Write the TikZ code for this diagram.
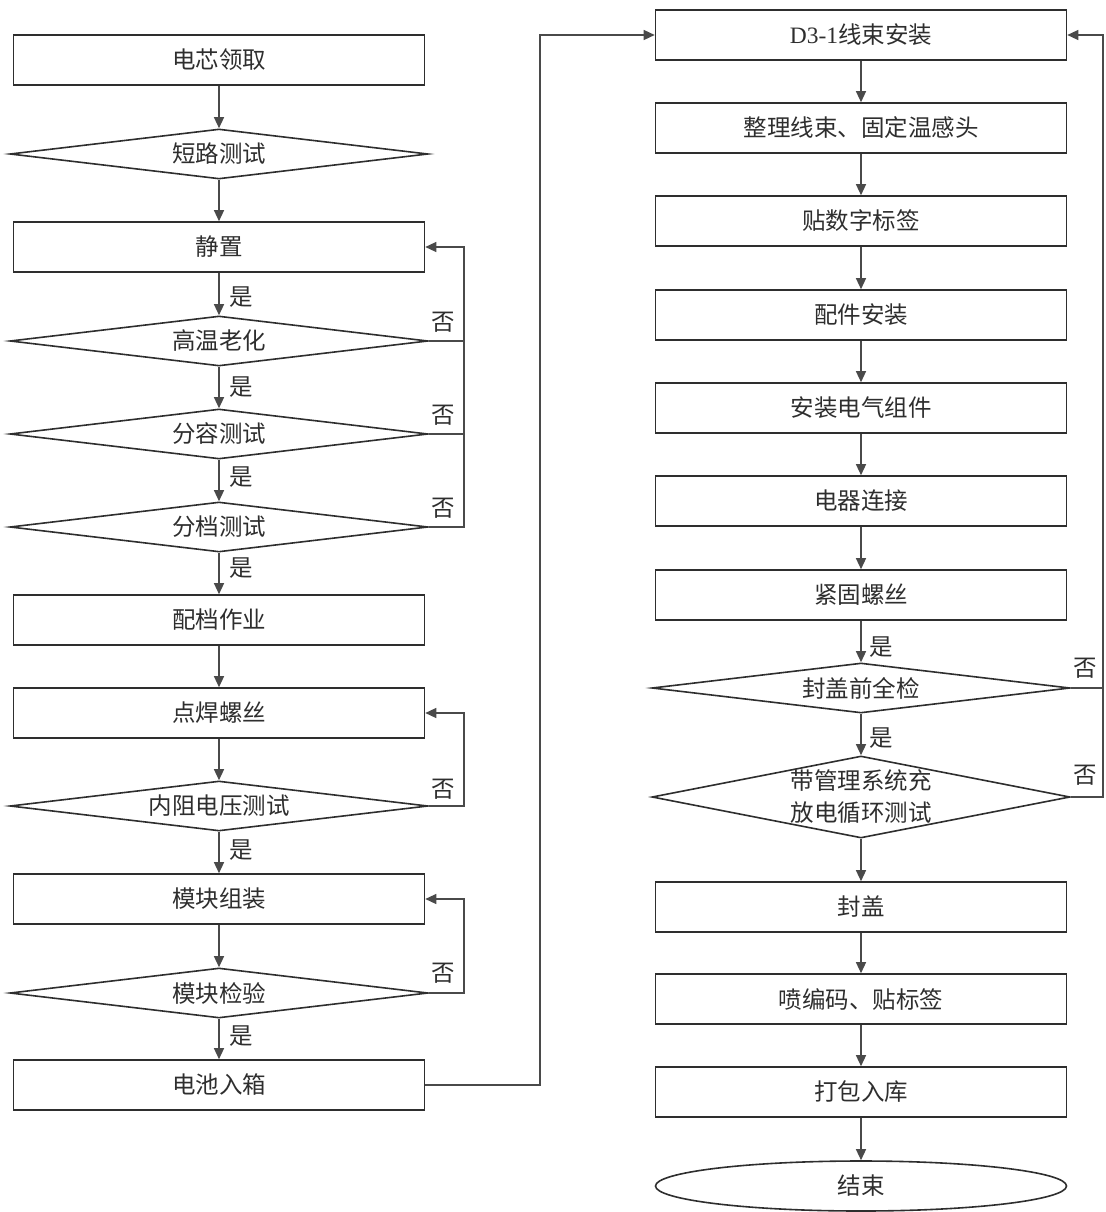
\documentclass[tikz,border=0pt]{standalone}
\usepackage{fontspec}
\setmainfont{Noto Sans CJK SC}
\newfontfamily\lat{Liberation Serif}
\usetikzlibrary{shapes.geometric,arrows.meta}
\definecolor{ln}{HTML}{2E2E2E}
\definecolor{cn}{HTML}{4A4A4A}
\definecolor{txt}{HTML}{2E2E2E}
\begin{document}
\begin{tikzpicture}[x=1pt,y=-1pt,
  every node/.style={font=\fontsize{23.5}{32}\selectfont, text=txt},
  box/.style={draw=ln, line width=1.6pt, rectangle, minimum width=411pt, minimum height=50pt, inner sep=0pt},
  dia/.style={draw=ln, line width=1.6pt, diamond, minimum width=418pt, minimum height=50pt, inner sep=0pt, aspect=8},
  ell/.style={draw=ln, line width=1.6pt, ellipse, minimum width=411pt, minimum height=50pt, inner sep=0pt},
  conn/.style={draw=cn, line width=1.3pt},
  arr/.style={conn, -{Triangle[length=11pt,width=10pt]}},
  lab/.style={inner sep=0pt}]
\useasboundingbox (0,0) rectangle (1105,1212);
% left column
\node[box] (n1) at (219,60) {电芯领取};
\node[dia, label={center:短路测试}] (d0) at (219,154) {};
\node[box] (n2) at (219,247) {静置};
\node[dia, label={center:高温老化}] (d1) at (219,341) {};
\node[dia, label={center:分容测试}] (d2) at (219,434) {};
\node[dia, label={center:分档测试}] (d3) at (219,527) {};
\node[box] (n3) at (219,620) {配档作业};
\node[box] (n4) at (219,713) {点焊螺丝};
\node[dia, label={center:内阻电压测试}] (d4) at (219,806) {};
\node[box] (n5) at (219,899) {模块组装};
\node[dia, label={center:模块检验}] (d5) at (219,993) {};
\node[box] (n6) at (219,1085) {电池入箱};
% right column
\node[box] (r1) at (861,35) {{\lat D3-1}线束安装};
\node[box] (r2) at (861,128) {整理线束、固定温感头};
\node[box] (r3) at (861,221) {贴数字标签};
\node[box] (r4) at (861,315) {配件安装};
\node[box] (r5) at (861,408) {安装电气组件};
\node[box] (r6) at (861,501) {电器连接};
\node[box] (r7) at (861,595) {紧固螺丝};
\node[dia, label={center:封盖前全检}] (d6) at (861,688) {};
\node[dia, minimum height=82pt, label={[align=center]center:带管理系统充\\放电循环测试}] (d7) at (861,797) {};
\node[box] (r8) at (861,907) {封盖};
\node[box] (r9) at (861,999) {喷编码、贴标签};
\node[box] (r10) at (861,1092) {打包入库};
\node[ell] (e1) at (861,1186) {结束};
% helper coordinates
\coordinate (fbL) at (464,0);
\coordinate (fbR) at (1103,0);
\coordinate (mid) at (540,0);
% main flow left
\draw[arr] (n1) -- (d0);
\draw[arr] (d0) -- (n2);
\draw[arr] (n2) -- (d1);
\draw[arr] (d1) -- (d2);
\draw[arr] (d2) -- (d3);
\draw[arr] (d3) -- (n3);
\draw[arr] (n3) -- (n4);
\draw[arr] (n4) -- (d4);
\draw[arr] (d4) -- (n5);
\draw[arr] (n5) -- (d5);
\draw[arr] (d5) -- (n6);
% main flow right
\draw[arr] (r1) -- (r2);
\draw[arr] (r2) -- (r3);
\draw[arr] (r3) -- (r4);
\draw[arr] (r4) -- (r5);
\draw[arr] (r5) -- (r6);
\draw[arr] (r6) -- (r7);
\draw[arr] (r7) -- (d6);
\draw[arr] (d6) -- (d7);
\draw[arr] (d7) -- (r8);
\draw[arr] (r8) -- (r9);
\draw[arr] (r9) -- (r10);
\draw[arr] (r10) -- (e1);
% feedback loops
\draw[conn] (d1.east) -- (d1.east -| fbL);
\draw[conn] (d2.east) -- (d2.east -| fbL);
\draw[arr] (d3.east) -- (d3.east -| fbL) |- (n2.east);
\draw[arr] (d4.east) -- (d4.east -| fbL) |- (n4.east);
\draw[arr] (d5.east) -- (d5.east -| fbL) |- (n5.east);
\draw[arr] (n6.east) -- (n6.east -| mid) |- (r1.west);
\draw[conn] (d6.east) -- (d6.east -| fbR);
\draw[arr] (d7.east) -- (d7.east -| fbR) |- (r1.east);
% yes labels
\node[lab] (y1) at (241,297) {是};
\node[lab] (y2) at (241,387) {是};
\node[lab] (y3) at (241,477) {是};
\node[lab] (y4) at (241,568) {是};
\node[lab] (y5) at (241,850) {是};
\node[lab] (y6) at (241,1036) {是};
\node[lab] (y7) at (881,647) {是};
\node[lab] (y8) at (881,738) {是};
% no labels
\node[lab] (no1) at (443,322) {否};
\node[lab] (no2) at (443,415) {否};
\node[lab] (no3) at (443,508) {否};
\node[lab] (no4) at (443,789) {否};
\node[lab] (no5) at (443,973) {否};
\node[lab] (no6) at (1085,668) {否};
\node[lab] (no7) at (1085,775) {否};
\end{tikzpicture}
\end{document}
